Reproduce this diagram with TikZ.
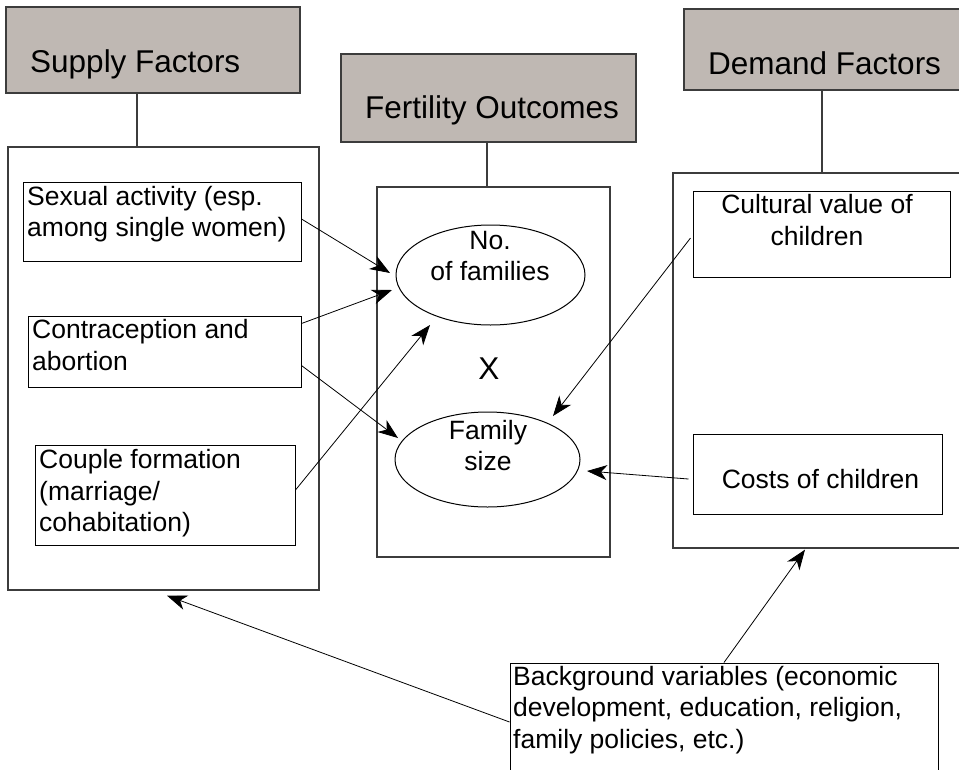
\documentclass[tikz,border=0pt]{standalone}
\usepackage{fontspec}
\setmainfont{Liberation Sans}
\usetikzlibrary{arrows.meta,calc,shapes.geometric}
\definecolor{hdrfill}{RGB}{191,184,179}
\definecolor{edgegray}{RGB}{60,60,60}
\tikzset{
 hdr/.style={draw=edgegray, line width=1.3pt, fill=hdrfill, rectangle, inner sep=0pt},
 frame/.style={draw=edgegray, line width=1.3pt, rectangle, inner sep=0pt},
 item/.style={draw=black, line width=1pt, rectangle, inner sep=0pt},
 oval/.style={draw=black, line width=1pt, ellipse, inner sep=0pt},
 hdrtext/.style={font=\fontsize{31.5}{36}\selectfont, inner sep=0pt, anchor=base west},
 bodyl/.style={font=\fontsize{26.5}{31.5}\selectfont, inner sep=0pt, align=left, anchor=base west},
 bodyc/.style={font=\fontsize{26.5}{31.5}\selectfont, inner sep=0pt, align=center, anchor=base},
 link/.style={draw=edgegray, line width=1.3pt},
 arr/.style={draw=black, line width=0.8pt, -{Stealth[length=20pt,width=15pt,inset=6pt]}},
}
\begin{document}
\begin{tikzpicture}[x=1pt,y=-1pt]
\useasboundingbox (0,0) rectangle (959,769);
% headers
\node[hdr, minimum width=294, minimum height=86] (supH) at (153,50) {};
\node[hdr, minimum width=295, minimum height=88] (ferH) at (488.5,98) {};
\node[hdr, minimum width=296, minimum height=81] (demH) at (832,49.5) {};
\node[hdrtext] (supT) at (30,72.7) {Supply Factors};
\node[hdrtext] (ferT) at (365,118.3) {Fertility Outcomes};
\node[hdrtext] (demT) at (708,74) {Demand Factors};
% frames
\node[frame, minimum width=311, minimum height=443] (supBox) at (163.5,368.5) {};
\node[frame, minimum width=233, minimum height=370] (ferBox) at (493.5,372) {};
\node[frame, minimum width=307, minimum height=375] (demBox) at (826.5,360.5) {};
% header links
\coordinate (s1) at ($(supH.south)+(-16,0)$);
\coordinate (f1) at ($(ferH.south)+(-1.5,0)$);
\coordinate (d1) at ($(demH.south)+(-10,0)$);
\draw[link] (s1) -- (s1 |- supBox.north);
\draw[link] (f1) -- (f1 |- ferBox.north);
\draw[link] (d1) -- (d1 |- demBox.north);
% supply items
\node[item, minimum width=278, minimum height=79] (sexB) at (162,221.5) {};
\node[item, minimum width=273, minimum height=71] (conB) at (164.5,351.5) {};
\node[item, minimum width=260, minimum height=100] (coupB) at (165,495) {};
\node[bodyl] (sexT) at (27,236.7) {Sexual activity (esp.\\among single women)};
\node[bodyl] (conT) at (32,370) {Contraception and\\abortion};
\node[bodyl] (coupT) at (39,531.5) {Couple formation\\(marriage/\\cohabitation)};
% outcomes
\node[oval, minimum width=189, minimum height=100] (fam) at (490.5,275) {};
\node[oval, minimum width=185, minimum height=95] (fsz) at (487.5,459.5) {};
\node[bodyc] (famT) at (490,280.5) {No.\\of families};
\node[bodyc] (fszT) at (488,470.5) {Family\\size};
\node[font=\fontsize{31.5}{36}\selectfont, inner sep=0pt, anchor=base] (xT) at (489,379) {X};
% demand items
\node[item, minimum width=257, minimum height=86] (cultB) at (821.5,234) {};
\node[item, minimum width=249, minimum height=80] (costB) at (817.5,474) {};
\node[bodyc] (cultT) at (817,245) {Cultural value of\\children};
\node[bodyc] (costT) at (820.5,488.3) {Costs of children};
% background
\node[item, minimum width=428, minimum height=127] (bgB) at (724,726.5) {};
\node[bodyl] (bgT) at (513,748) {Background variables (economic\\development, education, religion,\\family policies, etc.)};
% arrows
\draw[arr] ($(sexB.east)+(0,-2.5)$) -- ($(fam.center)+(-100.5,-2)$);
\draw[arr] ($(conB.north east)+(0,8)$) -- ($(fam.center)+(-98.5,15)$);
\draw[arr] ($(conB.north east)+(0,50)$) -- ($(fsz.center)+(-89.5,-21.5)$);
\draw[arr] ($(coupB.east)+(0,-5)$) -- ($(fam.center)+(-60.5,50)$);
\draw[arr] ($(cultB.west)+(-2,4)$) -- ($(fsz.center)+(65.5,-43.5)$);
\draw[arr] ($(costB.west)+(-4,5)$) -- ($(fsz.center)+(99.5,11.5)$);
\draw[arr] (bgB.north) -- ($(demBox.south)+(-21.5,1)$);
\draw[arr] ($(bgB.west)+(0,-4.5)$) -- ($(supBox.south)+(3.5,5)$);
\end{tikzpicture}
\end{document}
